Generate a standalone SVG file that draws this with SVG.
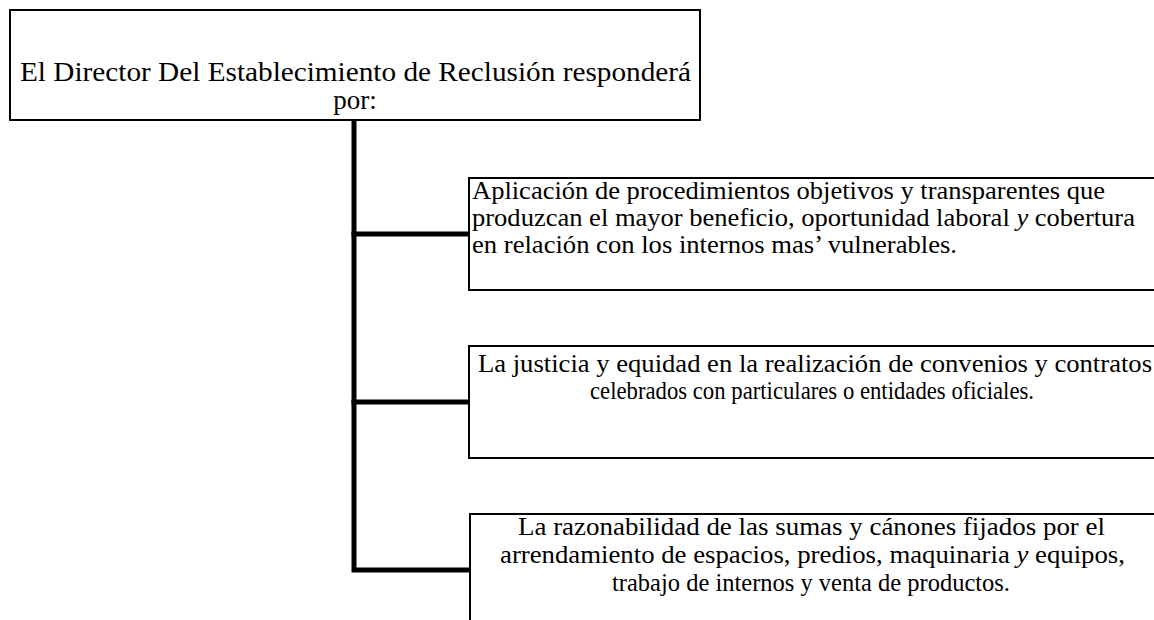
<svg xmlns="http://www.w3.org/2000/svg" width="1154" height="620" viewBox="0 0 1154 620">
<style>
.box{fill:#fff;stroke:#000;stroke-width:2}
.t{font-family:"Liberation Serif","Times New Roman",serif;font-size:25px;fill:#000}
.h{font-size:27px}
.c{stroke:#000;stroke-width:5;fill:none;stroke-linecap:square}
</style>
<rect width="1154" height="620" fill="#fff"/>
<g id="connectors">
<path class="c" d="M354,121 V570 H470"/>
<path class="c" d="M354,234 H469"/>
<path class="c" d="M354,402 H469"/>
</g>
<g id="root">
<rect class="box" x="10" y="10" width="690" height="110"/>
<text class="t h" x="20" y="81" textLength="671" lengthAdjust="spacingAndGlyphs">El Director Del Establecimiento de Reclusión responderá</text>
<text class="t h" x="355" y="109" text-anchor="middle">por:</text>
</g>
<g id="node1">
<rect class="box" x="469" y="178" width="700" height="112"/>
<text class="t" x="472" y="199" textLength="633" lengthAdjust="spacingAndGlyphs">Aplicación de procedimientos objetivos y transparentes que</text>
<text class="t" x="472" y="226" textLength="663" lengthAdjust="spacingAndGlyphs">produzcan el mayor beneficio, oportunidad laboral <tspan font-style="italic">y</tspan> cobertura</text>
<text class="t" x="472" y="253" textLength="485" lengthAdjust="spacingAndGlyphs">en relación con los internos mas’ vulnerables.</text>
</g>
<g id="node2">
<rect class="box" x="469" y="346" width="700" height="112"/>
<text class="t" x="478" y="372" textLength="674" lengthAdjust="spacingAndGlyphs">La justicia y equidad en la realización de convenios y contratos</text>
<text class="t" x="590" y="399" textLength="444" lengthAdjust="spacingAndGlyphs">celebrados con particulares o entidades oficiales.</text>
</g>
<g id="node3">
<rect class="box" x="470" y="514" width="700" height="120"/>
<text class="t" x="518" y="535" textLength="587" lengthAdjust="spacingAndGlyphs">La razonabilidad de las sumas y cánones fijados por el</text>
<text class="t" x="500" y="563" textLength="625" lengthAdjust="spacingAndGlyphs">arrendamiento de espacios, predios, maquinaria <tspan font-style="italic">y</tspan> equipos,</text>
<text class="t" x="612" y="591" textLength="398" lengthAdjust="spacingAndGlyphs">trabajo de internos y venta de productos.</text>
</g>
</svg>
